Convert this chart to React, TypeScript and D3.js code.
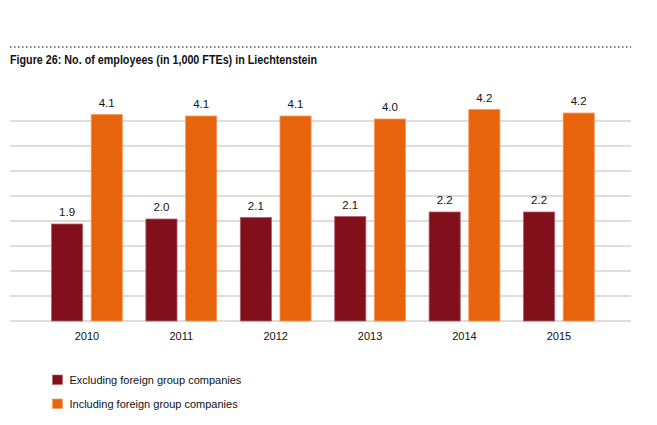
import React from "react";
import * as d3 from "d3";

const years = ["2010", "2011", "2012", "2013", "2014", "2015"];
const excluding = [1.94, 2.04, 2.07, 2.09, 2.18, 2.18];
const including = [4.13, 4.1, 4.1, 4.04, 4.23, 4.16];
const seriesNames = ["Excluding foreign group companies", "Including foreign group companies"];
const gridTicks = [0, 0.5, 1, 1.5, 2, 2.5, 3, 3.5, 4];
const title = "Figure 26: No. of employees (in 1,000 FTEs) in Liechtenstein";

const colors = ["#82101b", "#e8640c"];
const strokes = ["#b0606a", "#f39a5c"];

export default function App() {
  const W = 657;
  const H = 425;
  const gridLeft = 10;
  const gridRight = 631;
  const y = d3.scaleLinear().domain([0, 4]).range([321, 121]);
  const x0 = d3
    .scaleBand<string>()
    .domain(years)
    .range([39.7, 606.1])
    .paddingInner(0.25)
    .paddingOuter(0.125);
  const x1 = d3
    .scaleBand<string>()
    .domain(["ex", "in"])
    .range([0, x0.bandwidth()])
    .paddingInner(0.215);
  const fmt = d3.format(".1f");
  const series = [
    { key: "ex", values: excluding },
    { key: "in", values: including },
  ];
  const font = "'Liberation Sans', Arial, Helvetica, sans-serif";

  return (
    <svg
      width={W}
      height={H}
      style={{ position: "absolute", left: 0, top: 0, background: "#fff" }}
      fontFamily={font}
    >
      <line
        x1={10}
        x2={631}
        y1={47}
        y2={47}
        stroke="#555"
        strokeWidth={1.5}
        strokeDasharray="1.5 2.5"
      />
      <text
        x={10}
        y={63.5}
        fontSize={12}
        fontWeight="bold"
        fill="#111"
        textLength={307}
        lengthAdjust="spacingAndGlyphs"
      >
        {title}
      </text>
      {gridTicks.map((t) => (
        <line
          key={t}
          x1={gridLeft}
          x2={gridRight}
          y1={y(t)}
          y2={y(t)}
          stroke="#d5d1cd"
          strokeWidth={1.5}
        />
      ))}
      {series.map((s, si) =>
        s.values.map((v, i) => {
          const bx = (x0(years[i]) ?? 0) + (x1(s.key) ?? 0);
          const bw = x1.bandwidth();
          return (
            <g key={s.key + i}>
              <rect
                x={bx}
                y={y(v)}
                width={bw}
                height={y(0) - y(v)}
                fill={colors[si]}
                stroke={strokes[si]}
                strokeWidth={0.8}
              />
              <text
                x={bx + bw / 2}
                y={y(v) - 8}
                textAnchor="middle"
                fontSize={11.5}
                fill="#111"
              >
                {fmt(v)}
              </text>
            </g>
          );
        })
      )}
      {years.map((yr) => (
        <text
          key={yr}
          x={(x0(yr) ?? 0) + x0.bandwidth() / 2}
          y={340}
          textAnchor="middle"
          fontSize={11}
          fill="#111"
        >
          {yr}
        </text>
      ))}
      {seriesNames.map((n, i) => (
        <g key={n} transform={`translate(52.5, ${375 + i * 24})`}>
          <rect width={10} height={9.5} fill={colors[i]} stroke={strokes[i]} strokeWidth={0.6} />
          <text x={17} y={9} fontSize={11} fill="#111">
            {n}
          </text>
        </g>
      ))}
    </svg>
  );
}
